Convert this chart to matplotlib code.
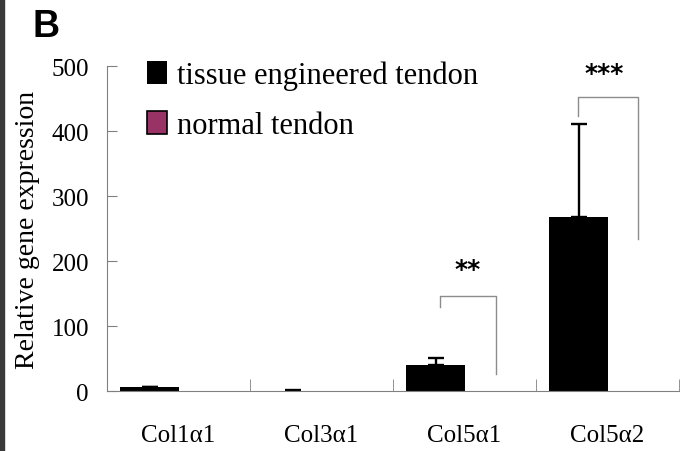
import numpy as np
import matplotlib.pyplot as plt
from matplotlib.patches import Rectangle

genes = ['Col1\u03b11', 'Col3\u03b11', 'Col5\u03b11', 'Col5\u03b12']
engineered = [6, 0.5, 40, 268]
engineered_err = [0, 1.5, 11, 143]
normal = [0, 0, 0, 0]
series_labels = ['tissue engineered tendon', 'normal tendon']
yticks = [0, 100, 200, 300, 400, 500]

# significance brackets: (x_left, x_right, y_top, y_left_end, y_right_end, stars, star_x, star_y)
brackets = [
    (1.83, 2.22, 146, 129, 26, '**', 2.02, 188),
    (2.79, 3.21, 452, 423, 234, '***', 2.98, 489),
]

plt.rcParams['font.family'] = ['Liberation Serif', 'DejaVu Serif']

fig = plt.figure(figsize=(6.83, 4.52), dpi=100)
ax = fig.add_axes([0.1567, 0.1327, 0.8375, 0.719])

x = np.arange(len(genes))
w = 0.413
ax.bar(x - w / 2 + 0.005, engineered, w, color='black', label=series_labels[0],
       yerr=[np.zeros(len(genes)), engineered_err], capsize=5.6,
       error_kw=dict(elinewidth=1.7, capthick=1.7, ecolor='black'))
ax.bar(x + w / 2 + 0.005, normal, w, color='#993366', edgecolor='none', linewidth=0,
       label=series_labels[1])

for xl, xr, yt, yl, yr, stars, sx, sy in brackets:
    ax.plot([xl, xl, xr, xr], [yl, yt, yt, yr], color='#8c8c8c', lw=1, clip_on=False)
    ax.text(sx, sy, stars, ha='center', va='center',
            fontsize=18, fontweight='bold', family='DejaVu Sans', clip_on=False)

ax.set_xlim(-0.5, len(genes) - 0.5)
ax.set_ylim(0, 500)
ax.set_yticks(yticks)
ax.set_xticks(x)
ax.set_xticklabels(genes, fontsize=18)
ax.set_xticks(np.arange(len(genes) + 1) - 0.5, minor=True)
ax.tick_params(axis='x', which='major', length=0, pad=24)
ax.tick_params(axis='x', which='minor', direction='in', length=9, color='#808080')
ax.tick_params(axis='y', direction='in', length=7, color='#808080', labelsize=18, pad=13)
for s in ['top', 'right']:
    ax.spines[s].set_visible(False)
for s in ['left', 'bottom']:
    ax.spines[s].set_color('#808080')
ax.set_ylabel('Relative gene expression', fontsize=20, labelpad=8)

leg = ax.legend(loc='upper left', bbox_to_anchor=(0.0486, 1.055), frameon=False, fontsize=22,
                handlelength=0.65, handleheight=0.78, handletextpad=0.33, labelspacing=0.68,
                borderaxespad=0)
leg.legend_handles[1].set_edgecolor('black')
leg.legend_handles[1].set_linewidth(1.2)

fig.text(0.048, 0.918, 'B', fontsize=27, fontweight='bold', family='Liberation Sans')
fig.patches.append(Rectangle((0, 0), 0.006, 1, transform=fig.transFigure,
                             color='#3a3a3a', zorder=0))

fig.savefig('out.png', dpi=100)
